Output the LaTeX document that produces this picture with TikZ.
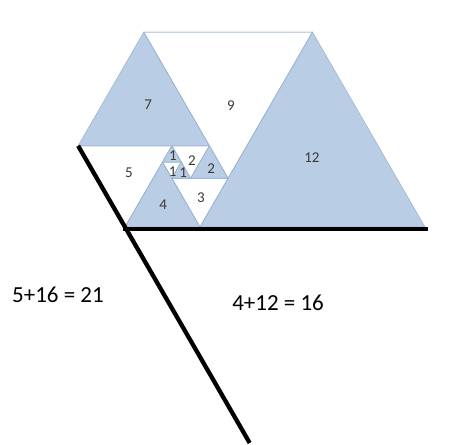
\documentclass[tikz,border=0pt]{standalone}
\usepackage{fontspec}
\setmainfont{Carlito}
\usetikzlibrary{calc}
\definecolor{tri}{HTML}{B9CDE5}
\definecolor{edg}{HTML}{9DB5D6}
\definecolor{num}{HTML}{3A3A3A}
\tikzset{
  up/.style={fill=tri,draw=edg,line width=0.6pt,line join=round},
  down/.style={fill=white,draw=edg,line width=0.6pt,line join=round},
  lab/.style={font=\fontsize{15}{15}\selectfont,text=num,inner sep=0pt},
  eqn/.style={font=\fontsize{23}{23}\selectfont,inner sep=0pt,anchor=west},
  rim/.style={line width=4.3pt,draw=black},
}
\begin{document}
\begin{tikzpicture}[x=18.75pt,y=16.238pt]
\useasboundingbox (-10.667,-13.425) rectangle (14.24,13.98);
% white (pointing down)
\fill[down] (-3,12) -- (6,12) -- (1.5,3) -- cycle;
\fill[down] (-6.5,5) -- (-1.5,5) -- (-4,0) -- cycle;
\fill[down] (-1.5,3) -- (1.5,3) -- (0,0) -- cycle;
\fill[down] (-1.5,5) -- (0.5,5) -- (-0.5,3) -- cycle;
\fill[down] (-2,4) -- (-1,4) -- (-1.5,3) -- cycle;
% blue (pointing up)
\fill[up] (0,0) -- (12,0) -- (6,12) -- cycle;
\fill[up] (-6.5,5) -- (0.5,5) -- (-3,12) -- cycle;
\fill[up] (-4,0) -- (0,0) -- (-2,4) -- cycle;
\fill[up] (-0.5,3) -- (1.5,3) -- (0.5,5) -- cycle;
\fill[up] (-2,4) -- (-1,4) -- (-1.5,5) -- cycle;
\fill[up] (-1.5,3) -- (-0.5,3) -- (-1,4) -- cycle;
\draw[down,fill=none] (-3,12) -- (6,12) -- (1.5,3) -- cycle;
\draw[down,fill=none] (-6.5,5) -- (-1.5,5) -- (-4,0) -- cycle;
\draw[down,fill=none] (-1.5,3) -- (1.5,3) -- (0,0) -- cycle;
\draw[down,fill=none] (-1.5,5) -- (0.5,5) -- (-0.5,3) -- cycle;
\draw[down,fill=none] (-2,4) -- (-1,4) -- (-1.5,3) -- cycle;
% labels
\node[lab] (t12) at (5.97,4.25) {12};
\node[lab] (t9) at (1.65,7.45) {9};
\node[lab] (t7) at (-2.77,7.51) {7};
\node[lab] (t5) at (-3.79,3.33) {5};
\node[lab] (t4) at (-1.97,1.35) {4};
\node[lab] (t3) at (0.05,1.79) {3};
\node[lab] (t2a) at (0.59,3.57) {2};
\node[lab] (t2b) at (-0.43,4.06) {2};
\node[lab] (t1a) at (-1.44,4.4) {1};
\node[lab] (t1b) at (-1.46,3.42) {1};
\node[lab] (t1c) at (-0.9,3.33) {1};
% thick lines
\coordinate (tip) at (-6.5,5);
\coordinate (foot) at (2.65,-13.3);
\coordinate (bl) at (-4.1,-0.12);
\coordinate (br) at (12.15,-0.12);
\draw[rim] (tip) -- (foot);
\draw[rim] (bl) -- (br);
\node[eqn] (left) at (-10.03,-4.19) {5+16 = 21};
\node[eqn] (right) at (1.71,-4.68) {4+12 = 16};
\end{tikzpicture}
\end{document}
